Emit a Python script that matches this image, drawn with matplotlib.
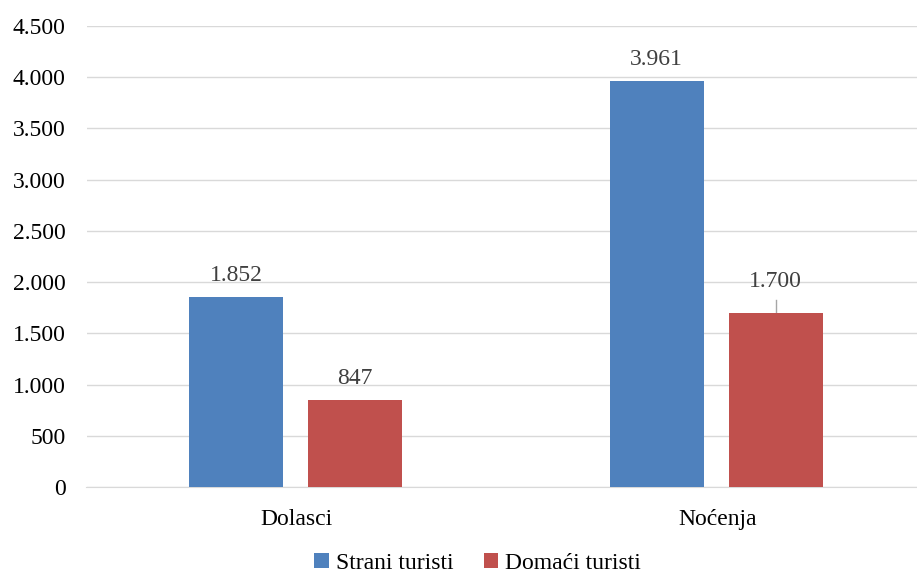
import matplotlib.pyplot as plt
import numpy as np
from matplotlib.ticker import FuncFormatter

categories = ['Dolasci', 'Noćenja']
strani = [1852, 3961]
domaci = [847, 1700]
series_names = ['Strani turisti', 'Domaći turisti']

plt.rcParams['font.family'] = ['Liberation Serif', 'DejaVu Serif']

fig = plt.figure(figsize=(9.17, 5.77), dpi=100)
ax = fig.add_axes([86.5 / 917, 1 - 487 / 577, 841 / 917, 461 / 577])

x = np.arange(len(categories))
w = 0.2235
b1 = ax.bar(x - 0.144, strani, w, color='#4F81BD', label=series_names[0], zorder=3)
b2 = ax.bar(x + 0.139, domaci, w, color='#C0504D', label=series_names[1], zorder=3)


def fmt(v, pos=None):
    return f'{int(round(v)):,}'.replace(',', '.')


for bars in (b1, b2):
    for i, r in enumerate(bars):
        h = r.get_height()
        # the 1.700 label sits higher, with a leader line
        off = 15 if (bars is b2 and i == 1) else 8
        ax.annotate(fmt(h), (r.get_x() + r.get_width() / 2, h), xytext=(0, off),
                    textcoords='offset points', ha='center', va='bottom',
                    fontsize=17, color='#404040')

r = b2[1]
ax.plot([r.get_x() + r.get_width() / 2] * 2, [1700, 1700 + 130], color='#A6A6A6', lw=1, zorder=2)

ax.set_ylim(0, 4500)
ax.set_xlim(-0.5, 1.5)
ax.set_yticks(np.arange(0, 4501, 500))
ax.yaxis.set_major_formatter(FuncFormatter(fmt))
ax.set_xticks(x)
ax.set_xticklabels(categories)
ax.grid(axis='y', color='#D9D9D9', lw=1, zorder=0)
for s in ['top', 'right', 'left']:
    ax.spines[s].set_visible(False)
ax.spines['bottom'].set_color('#D9D9D9')
ax.tick_params(axis='both', length=0, labelsize=17, colors='#000000')
ax.tick_params(axis='y', pad=15)
ax.tick_params(axis='x', pad=16)

fig.legend(loc='lower center', bbox_to_anchor=(0.521, -0.032), ncol=2, frameon=False,
           fontsize=17, handlelength=0.6, handleheight=0.6, handletextpad=0.3,
           columnspacing=1.3)

fig.savefig('out.png', dpi=100)
